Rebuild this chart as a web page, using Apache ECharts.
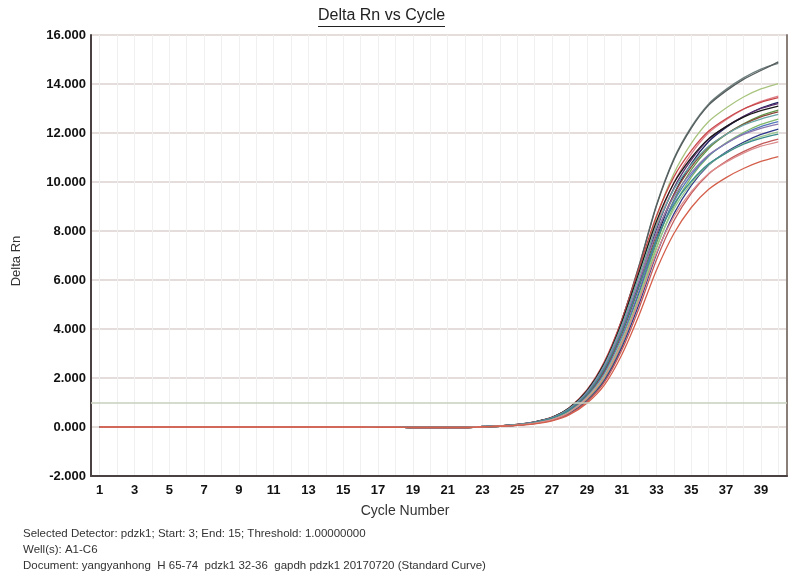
<!DOCTYPE html>
<html><head><meta charset="utf-8">
<script src="https://cdn.jsdelivr.net/npm/echarts@6/dist/echarts.min.js"></script>
<style>html,body{margin:0;padding:0;background:#fff}#c{width:800px;height:583px}</style>
</head><body><div id="c"></div>
<script>
// ---- data ----
const cycles = [1,2,3,4,5,6,7,8,9,10,11,12,13,14,15,16,17,18,19,20,21,22,23,24,25,26,27,28,29,30,31,32,33,34,35,36,37,38,39,40];
const xLabelCycles = [1,3,5,7,9,11,13,15,17,19,21,23,25,27,29,31,33,35,37,39];
const yMin = -2, yMax = 16, yStep = 2;
const threshold = 1.0;
// cycles 1-22: all wells lie on the same baseline
const baseline = [0,0,0,0,0,0,0,0,0,0,0,0,0,0,0,0,-0.01,-0.01,-0.02,-0.02,-0.02,-0.02];
// cycles 23-40 for each well
const w01 = [0.01,0.05,0.11,0.20,0.39,0.77,1.47,2.59,4.36,6.60,9.07,10.96,12.25,13.19,13.78,14.25,14.61,14.84];
const w02 = [0.01,0.05,0.11,0.20,0.39,0.76,1.47,2.58,4.34,6.57,9.03,10.91,12.20,13.14,13.72,14.19,14.55,14.90];
const w03 = [0.01,0.04,0.10,0.19,0.37,0.72,1.39,2.45,4.12,6.23,8.57,10.35,11.58,12.47,13.02,13.47,13.80,14.02];
const w04 = [0.01,0.04,0.10,0.18,0.35,0.70,1.34,2.36,3.97,6.00,8.25,9.97,11.15,12.01,12.54,12.97,13.29,13.51];
const w05 = [0.02,0.05,0.11,0.21,0.40,0.80,1.51,2.66,4.36,6.49,8.62,10.21,11.28,12.08,12.58,12.98,13.25,13.44];
const w06 = [0.01,0.03,0.08,0.16,0.31,0.60,1.16,2.06,3.53,5.48,7.69,9.49,10.75,11.65,12.23,12.67,13.02,13.25];
const w07 = [0.01,0.04,0.09,0.18,0.35,0.68,1.31,2.31,3.88,5.87,8.07,9.75,10.90,11.74,12.26,12.68,13.00,13.20];
const w08 = [0.02,0.05,0.10,0.21,0.39,0.78,1.47,2.59,4.25,6.33,8.40,9.96,10.99,11.77,12.26,12.65,12.91,13.10];
const w09 = [0.01,0.03,0.08,0.15,0.30,0.59,1.13,2.01,3.45,5.35,7.51,9.26,10.50,11.37,11.94,12.37,12.71,12.93];
const w10 = [0.01,0.04,0.09,0.17,0.34,0.66,1.28,2.25,3.78,5.72,7.86,9.50,10.62,11.44,11.95,12.35,12.66,12.86];
const w11 = [0.02,0.05,0.10,0.20,0.38,0.76,1.43,2.53,4.14,6.16,8.18,9.70,10.71,11.46,11.94,12.32,12.57,12.76];
const w12 = [0.01,0.03,0.08,0.15,0.29,0.57,1.10,1.95,3.35,5.20,7.30,9.00,10.20,11.05,11.60,12.02,12.35,12.57];
const w13 = [0.01,0.04,0.09,0.17,0.33,0.64,1.24,2.18,3.66,5.54,7.62,9.20,10.29,11.08,11.57,11.97,12.26,12.46];
const w14 = [0.02,0.05,0.10,0.20,0.37,0.73,1.39,2.45,4.01,5.97,7.93,9.40,10.38,11.11,11.57,11.94,12.19,12.36];
const w15 = [0.01,0.03,0.08,0.15,0.28,0.55,1.06,1.89,3.24,5.03,7.06,8.70,9.86,10.69,11.22,11.62,11.94,12.16];
const w16 = [0.01,0.04,0.09,0.16,0.32,0.62,1.20,2.10,3.54,5.35,7.36,8.89,9.94,10.71,11.19,11.57,11.85,12.05];
const w17 = [0.02,0.05,0.09,0.19,0.36,0.71,1.34,2.37,3.88,5.77,7.66,9.08,10.03,10.74,11.18,11.54,11.78,11.95];
const w18 = [0.01,0.03,0.07,0.14,0.27,0.53,1.03,1.82,3.13,4.86,6.83,8.42,9.54,10.33,10.85,11.24,11.55,11.75];
const w19 = [0.01,0.04,0.08,0.16,0.30,0.60,1.16,2.03,3.42,5.17,7.11,8.59,9.61,10.35,10.81,11.18,11.46,11.64];
const w20 = [0.01,0.03,0.07,0.13,0.25,0.50,0.97,1.71,2.94,4.57,6.41,7.90,8.96,9.70,10.18,10.55,10.84,11.04];
const wells = [w01,w02,w03,w04,w05,w06,w07,w08,w09,w10,w11,w12,w13,w14,w15,w16,w17,w18,w19,w20];
const wellColors = ['#6f7f7f','#555d5d','#a9c47f','#e0808a','#c8484a','#1e2460','#5a2d6e','#1a1a1a','#5f9a4a','#8b4a3a',
                    '#6aa8a8','#7fb86a','#5577bb','#8a78b0','#2e3a8a','#98c890','#3c8c8c','#c45a5a','#dc8c8c','#d4604c'];
const titleText = 'Delta Rn vs Cycle';
const footer1 = 'Selected Detector: pdzk1; Start: 3; End: 15; Threshold: 1.00000000';
const footer2 = 'Well(s): A1-C6';
const footer3 = 'Document: yangyanhong  H 65-74  pdzk1 32-36  gapdh pdzk1 20170720 (Standard Curve)';

// ---- chart ----
const FONT = '"Liberation Sans", Arial, sans-serif';
const chart = echarts.init(document.getElementById('c'), null, {renderer: 'canvas'});

const series = wells.map((w, i) => {
  const vals = baseline.concat(w);
  const s = {
    type: 'line',
    name: 'Well ' + (i + 1),
    data: cycles.map((c, k) => [c, vals[k]]),
    showSymbol: false,
    smooth: 0.25,
    lineStyle: {color: wellColors[i], width: 1.3},
    itemStyle: {color: wellColors[i]},
    silent: true,
    animation: false
  };
  if (i === 0) {
    s.markLine = {
      silent: true, symbol: ['none','none'], label: {show: false},
      lineStyle: {color: '#c9d1bd', width: 1.5, type: 'solid'},
      data: [{yAxis: threshold}],
      animation: false
    };
  }
  return s;
});

chart.setOption({
  backgroundColor: '#ffffff',
  animation: false,
  grid: {left: 91, right: 13, top: 35, bottom: 107, containLabel: false},
  xAxis: {
    type: 'value', min: 0.5, max: 40.5,
    axisLine: {show: true, onZero: false, lineStyle: {color: '#4a4242', width: 2}},
    axisTick: {show: false, customValues: cycles},
    axisLabel: {customValues: xLabelCycles, color: '#111', fontWeight: 'bold', fontSize: 13, fontFamily: FONT, margin: 8},
    splitLine: {show: true, lineStyle: {color: '#f0f0f0', width: 1}}
  },
  yAxis: [{
    type: 'value', min: yMin, max: yMax, interval: yStep,
    axisLine: {show: true, onZero: false, lineStyle: {color: '#4a4242', width: 2}},
    axisTick: {show: false},
    axisLabel: {color: '#111', fontWeight: 'bold', fontSize: 13, fontFamily: FONT, margin: 5,
      formatter: v => v.toFixed(3)},
    splitLine: {show: true, lineStyle: {color: '#ddd0d0', width: 1.5}}
  }, {
    type: 'value', min: yMin, max: yMax, interval: yStep, position: 'right',
    axisLine: {show: true, onZero: false, lineStyle: {color: '#8a7e78', width: 2}},
    axisTick: {show: false}, axisLabel: {show: false}, splitLine: {show: false}
  }],
  graphic: [
    {type: 'text', left: 318, top: 8, style: {text: titleText, fontSize: 16, fontFamily: FONT, fill: '#222'}},
    {type: 'line', shape: {x1: 318, y1: 26.5, x2: 445, y2: 26.5}, style: {stroke: '#222', lineWidth: 1.2}},
    {type: 'text', x: 16, y: 261, rotation: Math.PI / 2,
      style: {text: 'Delta Rn', fontSize: 13, fontFamily: FONT, fill: '#333', align: 'center', verticalAlign: 'middle'}},
    {type: 'text', x: 405, y: 511,
      style: {text: 'Cycle Number', fontSize: 14, fontFamily: FONT, fill: '#333', align: 'center', verticalAlign: 'middle'}},
    {type: 'text', x: 23, y: 534, style: {text: footer1, fontSize: 11.5, fontFamily: FONT, fill: '#333', verticalAlign: 'middle'}},
    {type: 'text', x: 23, y: 550, style: {text: footer2, fontSize: 11.5, fontFamily: FONT, fill: '#333', verticalAlign: 'middle'}},
    {type: 'text', x: 23, y: 566, style: {text: footer3, fontSize: 11.5, fontFamily: FONT, fill: '#333', verticalAlign: 'middle'}}
  ],
  series: series
});
</script>
</body></html>
